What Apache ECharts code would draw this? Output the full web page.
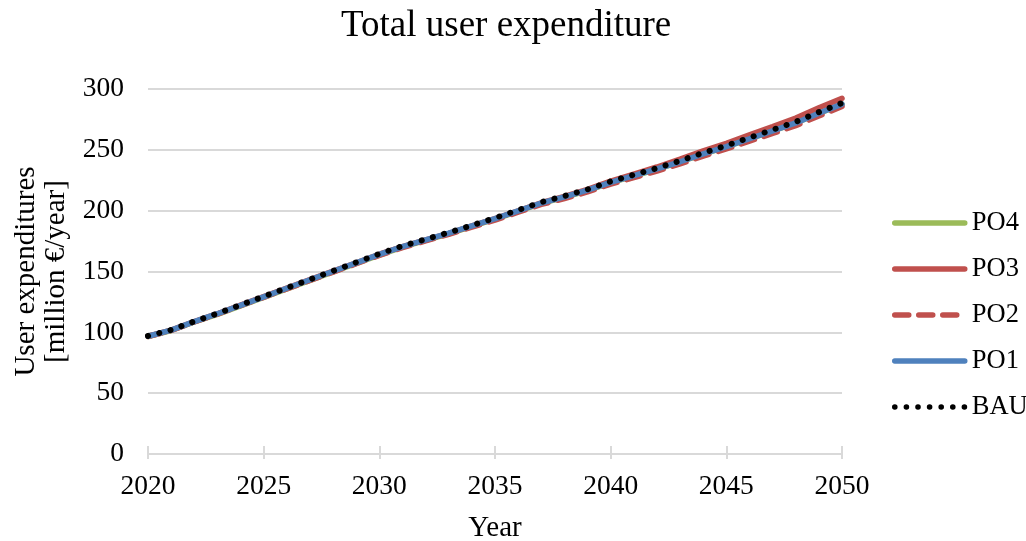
<!DOCTYPE html>
<html>
<head>
<meta charset="utf-8">
<script src="https://cdn.jsdelivr.net/npm/echarts@6/dist/echarts.min.js"></script>
<style>html,body{margin:0;padding:0;background:#fff}#c{width:1026px;height:541px}</style>
</head>
<body>
<div id="c"></div>
<script>
var years = [2020,2021,2022,2023,2024,2025,2026,2027,2028,2029,2030,2031,2032,2033,2034,2035,2036,2037,2038,2039,2040,2041,2042,2043,2044,2045,2046,2047,2048,2049,2050];
var bau = [97,102,109,115.5,122.5,129.5,136.5,143.5,150.5,157.5,164.5,171,176.5,182,188,194,200.5,207,212,217.5,224,229.5,235,241,247.5,253.5,260,266.5,273,281,288.5];
var po1 = [96.8,101.8,108.8,115.3,122.2,129.2,136.2,143.2,150.2,157.1,164.1,170.5,176,181.5,187.5,193.4,199.9,206.3,211.3,216.8,223.3,228.8,234.3,240.2,246.7,252.7,259.1,265.6,272.1,280.1,287.6];
var po2 = [96.6,101.5,108.5,115,121.9,128.8,135.7,142.6,149.5,156.4,163.3,169.7,175.1,180.5,186.4,192.3,198.7,205.1,210,215.4,221.8,227.2,232.6,238.5,244.9,250.8,257.1,263.5,269.9,277.8,285.7];
var po3 = [96.8,101.8,108.8,115.3,122.3,129.3,136.3,143.3,150.3,157.2,164.2,170.5,176,181.4,187.4,193.4,199.9,206.5,211.7,217.5,224.3,230.1,235.9,242.3,249.1,255.4,262.3,269.2,276.2,284.6,292.3];
var po4 = [96.6,101.5,108.5,114.8,121.8,128.7,135.7,142.6,149.6,156.6,163.5,170,175.5,181,187,193,199.5,206,211,216.5,223,228.5,234,240,246.5,252.5,259,265.5,272,280,287.5];
var yTicks = [0,50,100,150,200,250,300];
var xTicks = [2020,2025,2030,2035,2040,2045,2050];

function pairs(v){ return years.map(function(y,i){ return [y, v[i]]; }); }

var font = 'Liberation Serif, Times New Roman, serif';
var chart = echarts.init(document.getElementById('c'));
chart.setOption({
  animation: false,
  backgroundColor: '#fff',
  textStyle: {fontFamily: font, color: '#000'},
  title: {
    text: 'Total user expenditure', left: 341, top: 8, padding: 0,
    textStyle: {fontFamily: font, fontSize: 37, fontWeight: 'normal', color: '#000'}
  },
  grid: {left: 148, right: 184, top: 89, bottom: 87, containLabel: false, outerBoundsMode: 'none'},
  legend: {
    orient: 'vertical', left: 892, top: 208, padding: 0,
    itemWidth: 70, itemHeight: 14, itemGap: 16,
    data: ['PO4','PO3','PO2','PO1','BAU'],
    itemStyle: {color: 'rgba(0,0,0,0)', borderWidth: 0, opacity: 0},
    lineStyle: {width: 5.5, cap: 'round'},
    textStyle: {fontFamily: font, fontSize: 26.5, color: '#000', lineHeight: 30, padding: [0, 0, 0, 2]}
  },
  xAxis: [{
    type: 'value', min: 2020, max: 2050, interval: 5,
    name: 'Year', nameLocation: 'middle', nameGap: 60,
    nameTextStyle: {fontFamily: font, fontSize: 29, color: '#000'},
    axisLine: {show: true, lineStyle: {color: '#d9d9d9', width: 2}},
    axisTick: {show: true, length: 5, lineStyle: {color: '#d9d9d9', width: 2}},
    axisLabel: {fontFamily: font, fontSize: 27.5, color: '#000', margin: 19,
      formatter: function(v){ return xTicks.indexOf(v) >= 0 ? String(v) : ''; }},
    splitLine: {show: false}
  },{
    type: 'value', min: 2020, max: 2050, interval: 5, position: 'bottom',
    axisLine: {show: false},
    axisTick: {show: true, inside: true, length: 8, lineStyle: {color: '#d9d9d9', width: 2}},
    axisLabel: {show: false}, splitLine: {show: false}
  }],
  yAxis: {
    type: 'value', min: 0, max: 300, interval: 50,
    name: 'User expenditures\n[million €/year]', nameLocation: 'middle', nameGap: 74,
    nameTextStyle: {fontFamily: font, fontSize: 29, color: '#000', lineHeight: 30},
    axisLine: {show: false}, axisTick: {show: false},
    axisLabel: {fontFamily: font, fontSize: 27.5, color: '#000', margin: 24,
      formatter: function(v){ return yTicks.indexOf(v) >= 0 ? String(v) : ''; }},
    splitLine: {show: true, lineStyle: {color: '#d9d9d9', width: 2}}
  },
  series: [
    {name: 'PO4', type: 'line', data: pairs(po4), showSymbol: false, symbol: 'none',
     lineStyle: {color: '#9bbb59', width: 5.5, cap: 'round'}, itemStyle: {color: '#9bbb59'}},
    {name: 'PO3', type: 'line', data: pairs(po3), showSymbol: false, symbol: 'none',
     lineStyle: {color: '#c0504d', width: 5.5, cap: 'round'}, itemStyle: {color: '#c0504d'}},
    {name: 'PO2', type: 'line', data: pairs(po2), showSymbol: false, symbol: 'none',
     lineStyle: {color: '#c0504d', width: 5.5, type: [14, 10], cap: 'round'}, itemStyle: {color: '#c0504d'}},
    {name: 'PO1', type: 'line', data: pairs(po1), showSymbol: false, symbol: 'none',
     lineStyle: {color: '#4f81bd', width: 5.5, cap: 'round'}, itemStyle: {color: '#4f81bd'}},
    {name: 'BAU', type: 'line', data: pairs(bau), showSymbol: false, symbol: 'none',
     lineStyle: {color: '#000', width: 6, type: [0.1, 11.5], cap: 'round'}, itemStyle: {color: '#000'}}
  ]
});
</script>
</body>
</html>
